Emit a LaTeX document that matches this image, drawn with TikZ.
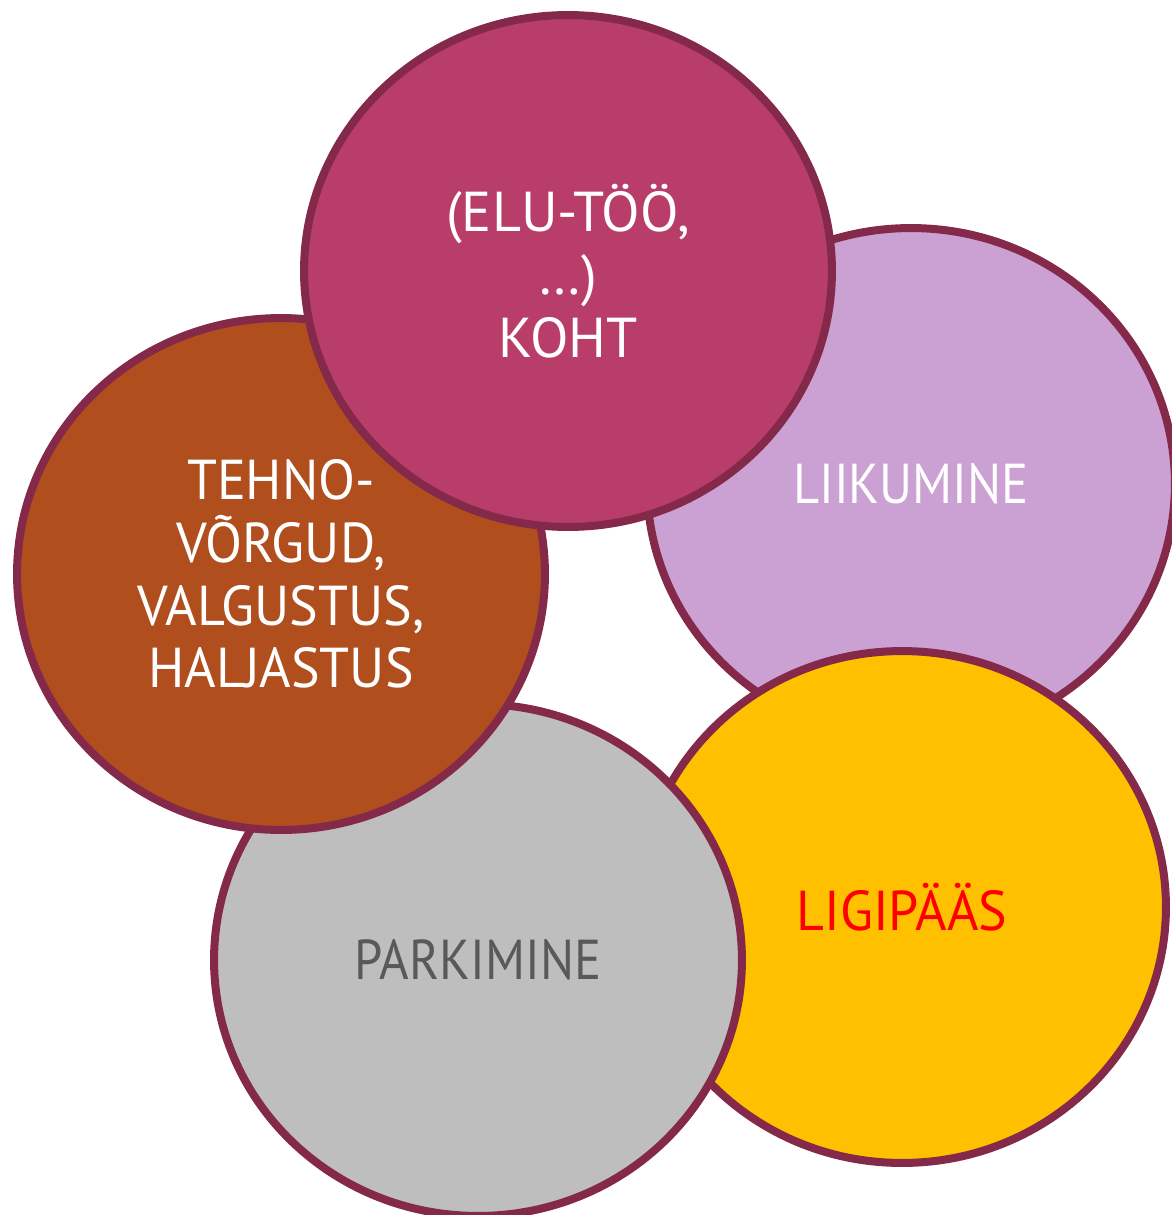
\documentclass[tikz,border=0pt]{standalone}
\usepackage{fontspec}
\setmainfont{PT Sans}
\newfontfamily\narrowfont[FakeStretch=0.9]{PT Sans}
\newfontfamily\slimfont[FakeStretch=0.96]{PT Sans}
\usetikzlibrary{shapes.geometric}
\definecolor{my_border}{RGB}{133, 41, 74}
\definecolor{my_rose}{RGB}{184, 61, 104}
\definecolor{my_lilac}{RGB}{203, 160, 210}
\definecolor{my_rust}{RGB}{176, 78, 30}
\definecolor{my_grey}{RGB}{190, 190, 190}
\definecolor{my_amber}{RGB}{255, 192, 0}
\definecolor{my_darktext}{RGB}{89, 89, 89}
\tikzset {
  bubble/.style = {draw=my_border, line width=0.16cm, ellipse, text centered, align=center,
                   minimum width=10.56cm, minimum height=10.24cm, inner sep=0pt,
                   font=\fontsize{32}{35.7}\selectfont, text=white},
}

\begin{document}
\begin{tikzpicture}[x=0.02cm, y=-0.02cm]

    \useasboundingbox (0,0) rectangle (1172,1215);

    \node[bubble, fill=my_lilac, font=\fontsize{32}{35.7}\narrowfont] (liikumine) at (911,484) {LIIKUMINE};
    \node[bubble, fill=my_amber, text=red, font=\fontsize{32}{35.7}\slimfont] (ligipaas) at (902,907) {LIGIPÄÄS};
    \node[bubble, fill=my_grey, text=my_darktext, font=\fontsize{32}{35.7}\narrowfont] (parkimine) at (478,960) {PARKIMINE};
    \node[bubble, fill=my_rust, font=\fontsize{32}{35.7}\slimfont] (tehno) at (281,574) {TEHNO-\\VÕRGUD,\\VALGUSTUS,\\HALJASTUS};
    \node[bubble, fill=my_rose] (koht) at (568,271) {(ELU-TÖÖ,\\…)\\KOHT};

\end{tikzpicture}
\end{document}
